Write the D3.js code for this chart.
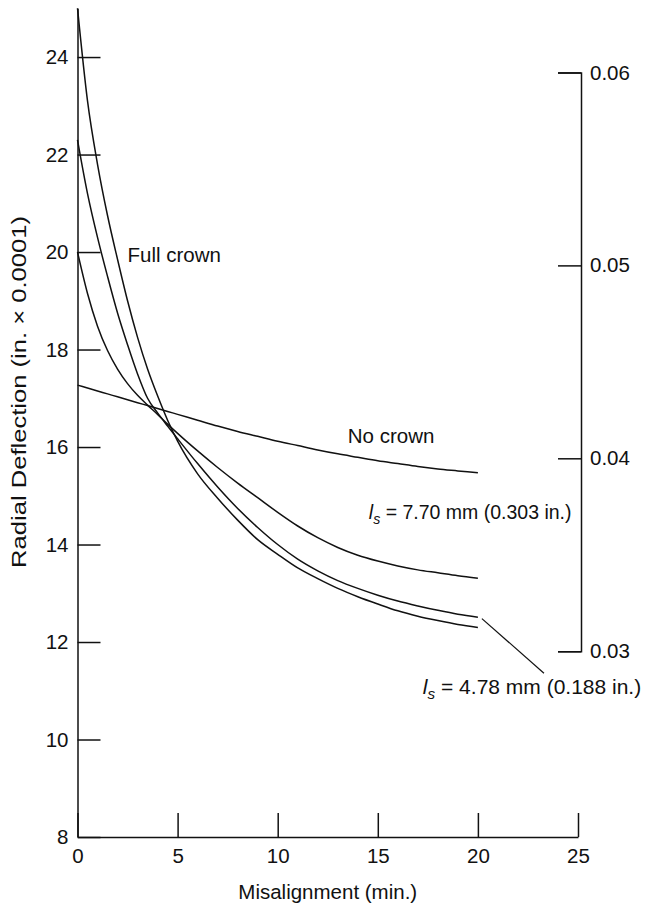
<!DOCTYPE html>
<html>
<head>
<meta charset="utf-8">
<script src="https://cdn.jsdelivr.net/npm/d3@7"></script>
<style>
  body { margin: 0; background: #fff; }
  svg text { font-family: "Liberation Sans", Arial, Helvetica, sans-serif; fill: #111; }
</style>
</head>
<body>
<svg id="chart" width="652" height="914"></svg>
<script>
// misalignment (min.) sampled along every curve
let misalignment = [0, 0.5, 1, 1.5, 2, 2.5, 3, 3.5, 4, 4.5, 5,
    6, 7, 8, 9, 10, 11, 12, 13, 14, 15, 16, 17, 18, 19, 20];

// radial deflection, in. x 0.0001
let fullCrown = [25.0, 23.1, 21.8, 20.75, 19.85, 19.0, 18.25, 17.6, 17.05, 16.55, 16.12,
    15.45, 14.95, 14.5, 14.1, 13.8, 13.52, 13.3, 13.1, 12.93, 12.78, 12.64, 12.53, 12.44, 12.36, 12.3];
let crown478 = [22.3, 21.2, 20.3, 19.5, 18.75, 18.1, 17.5, 17.0, 16.7, 16.43, 16.17,
    15.66, 15.18, 14.74, 14.35, 14.0, 13.7, 13.46, 13.26, 13.1, 12.96, 12.84, 12.74, 12.65, 12.57, 12.51];
let crown770 = [20.0, 19.15, 18.48, 17.98, 17.6, 17.3, 17.06, 16.86, 16.67, 16.47, 16.28,
    15.92, 15.58, 15.26, 14.96, 14.66, 14.38, 14.14, 13.94, 13.78, 13.66, 13.56, 13.48, 13.42, 13.36, 13.31];
let noCrown = [17.27, 17.21, 17.15, 17.09, 17.03, 16.97, 16.91, 16.85, 16.79, 16.73, 16.67,
    16.55, 16.43, 16.32, 16.22, 16.12, 16.03, 15.94, 15.86, 15.79, 15.72, 15.66, 15.6, 15.55, 15.51, 15.47];

let xTicks = [0, 5, 10, 15, 20, 25];
let yTicks = [8, 10, 12, 14, 16, 18, 20, 22, 24];
let mmTicks = [0.03, 0.04, 0.05, 0.06];

// label anchors in data units: [minutes, deflection]
let labels = [
    { text: 'Full crown', at: [2.5, 19.8], size: 20.5 },
    { text: 'No crown', at: [13.5, 16.08], size: 20.5 },
    { text: ' = 7.70 mm (0.303 in.)', sub: true, at: [14.55, 14.52], size: 19.5 },
    { text: ' = 4.78 mm (0.188 in.)', sub: true, at: [17.25, 10.93], size: 21 }
];
let leader = [[20.2, 12.48], [23.3, 11.36]];

let fontSize = 20.5;

let svg = d3.select('#chart');

let x = d3.scaleLinear()
    .domain( [0, 25] )
    .range( [77.5, 578] );

let y = d3.scaleLinear()
    .domain( [8, 25] )
    .range( [837, 8.3] );

// right hand scale in mm, 1 in. = 25.4 mm
let yMM = d3.scaleLinear()
    .domain( [0.03, 0.06] )
    .range( [y(0.03 / 0.00254), y(0.06 / 0.00254) - 3] );

let series = [fullCrown, crown478, crown770, noCrown];

let line = d3.line()
    .x( (d, i) => x(misalignment[i]) )
    .y( d => y(d) )
    .curve( d3.curveMonotoneX );

svg.append('g')
    .selectAll('path')
    .data( series )
    .join('path')
    .attr('d', line)
    .attr('fill', 'none')
    .attr('stroke', '#111')
    .attr('stroke-width', 1.5);

// axes, ticks point inward
let gx = svg.append('g')
    .attr('transform', `translate(0,${y(8)})`)
    .call( d3.axisBottom(x).tickValues(xTicks).tickSizeInner(-24).tickSizeOuter(0).tickPadding(11) );

let gy = svg.append('g')
    .attr('transform', `translate(${x(0)},0)`)
    .call( d3.axisLeft(y).tickValues(yTicks).tickSizeInner(-23).tickSizeOuter(0).tickPadding(9) );

let gr = svg.append('g')
    .attr('transform', `translate(${x(25) + 3},0)`)
    .call( d3.axisRight(yMM).tickValues(mmTicks).tickSize(-23).tickPadding(9).tickFormat(d3.format('.2f')) );

[gx, gy, gr].forEach(g => {
    g.selectAll('path, line').attr('stroke', '#111').attr('stroke-width', 1.5);
    g.selectAll('text').attr('font-size', fontSize).attr('fill', '#111')
        .attr('font-family', '"Liberation Sans", Arial, sans-serif');
});

// axis titles
svg.append('text')
    .attr('x', x(12.5))
    .attr('y', 899)
    .attr('text-anchor', 'middle')
    .attr('font-size', fontSize)
    .text('Misalignment (min.)');

svg.append('text')
    .attr('transform', `translate(26,${y(17.13)}) rotate(-90)`)
    .attr('text-anchor', 'middle')
    .attr('font-size', fontSize)
    .attr('textLength', 352)
    .attr('lengthAdjust', 'spacingAndGlyphs')
    .text('Radial Deflection (in. \u00d7 0.0001)');

// curve labels
let lab = svg.append('g')
    .selectAll('text')
    .data( labels )
    .join('text')
    .attr('x', d => x(d.at[0]))
    .attr('y', d => y(d.at[1]))
    .attr('font-size', d => d.size);

lab.each(function(d) {
    let t = d3.select(this);
    if (d.sub) {
        t.append('tspan').attr('font-style', 'italic').text('l');
        t.append('tspan').attr('font-style', 'italic').attr('font-size', d.size * 0.73)
            .attr('dy', 5).text('s');
        t.append('tspan').attr('dy', -5).text(d.text);
    } else {
        t.text(d.text);
    }
});

svg.append('line')
    .attr('x1', x(leader[0][0])).attr('y1', y(leader[0][1]))
    .attr('x2', x(leader[1][0])).attr('y2', y(leader[1][1]))
    .attr('stroke', '#111')
    .attr('stroke-width', 1.2);
</script>
</body>
</html>
